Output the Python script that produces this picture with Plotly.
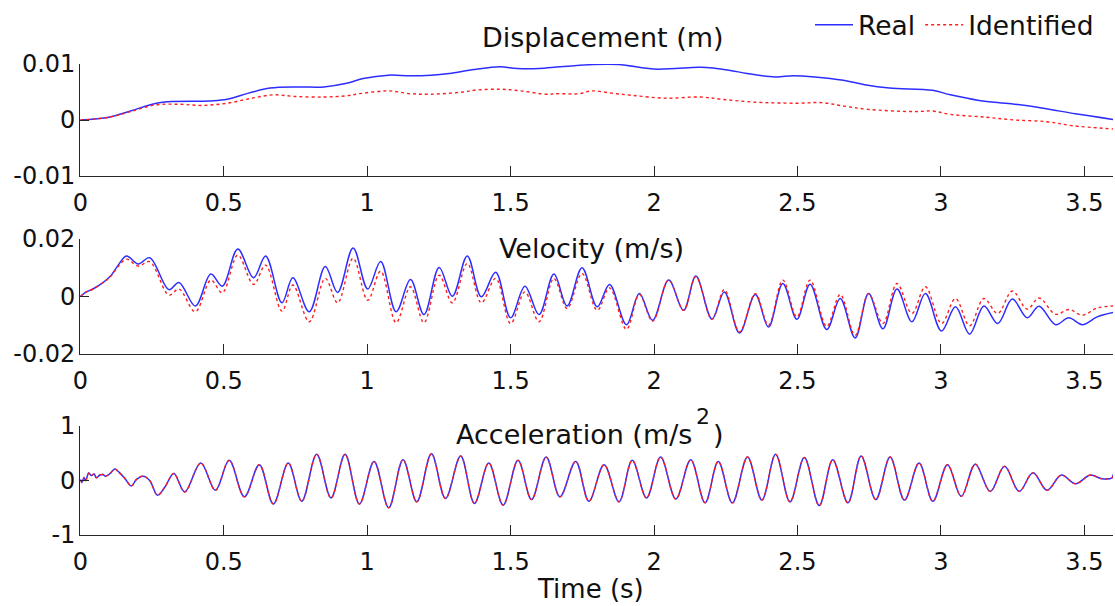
import plotly.graph_objects as go

# ---- data -------------------------------------------------------------
# Displacement (m)
disp_t_real = [0, 0.1, 0.175, 0.275, 0.449, 0.512, 0.587, 0.662, 0.762, 0.849,
               0.924, 0.986, 1.074, 1.149, 1.223, 1.286, 1.373, 1.461, 1.523, 1.598,
               1.673, 1.788, 1.876, 2.0, 2.075, 2.162, 2.261, 2.324, 2.423, 2.485,
               2.56, 2.66, 2.734, 2.821, 2.971, 3.033, 3.133, 3.245, 3.357, 3.469,
               3.6]
disp_real = [0, 0.0005, 0.0016, 0.0031, 0.0034, 0.0037, 0.0048, 0.0057, 0.0059, 0.0059,
             0.0065, 0.0074, 0.0080, 0.0079, 0.0080, 0.0083, 0.0090, 0.0095, 0.0092, 0.0092,
             0.0095, 0.0099, 0.0099, 0.0091, 0.0092, 0.0094, 0.0089, 0.0083, 0.0077, 0.0079,
             0.0077, 0.0071, 0.0063, 0.0057, 0.0053, 0.0045, 0.0035, 0.0029, 0.0021, 0.0011,
             0.0001]
disp_t_ident = [0, 0.1, 0.175, 0.262, 0.35, 0.424, 0.512, 0.599, 0.674, 0.749,
                0.849, 0.924, 0.974, 1.074, 1.149, 1.223, 1.336, 1.373, 1.461, 1.536,
                1.623, 1.664, 1.739, 1.782, 1.851, 1.925, 2.037, 2.162, 2.236, 2.348,
                2.498, 2.585, 2.66, 2.747, 2.908, 2.971, 3.033, 3.157, 3.257, 3.369,
                3.456, 3.6]
disp_ident = [0, 0.0005, 0.0015, 0.0027, 0.0028, 0.0026, 0.0030, 0.0039, 0.0045, 0.0042,
              0.0041, 0.0043, 0.0047, 0.0052, 0.0047, 0.0046, 0.0050, 0.0053, 0.0055, 0.0052,
              0.0046, 0.0047, 0.0047, 0.0052, 0.0048, 0.0044, 0.0039, 0.0041, 0.0037, 0.0032,
              0.0030, 0.0031, 0.0025, 0.0019, 0.0015, 0.0016, 0.0010, 0.0005, 0.0000, -0.0003,
              -0.0010, -0.0016]

# Velocity (m/s)
vel_t = [0, 0.021, 0.044, 0.103, 0.132, 0.161, 0.202, 0.242, 0.309, 0.344,
         0.401, 0.455, 0.495, 0.549, 0.604, 0.646, 0.703, 0.741, 0.798, 0.854,
         0.897, 0.951, 1.002, 1.047, 1.101, 1.151, 1.198, 1.251, 1.297, 1.349,
         1.398, 1.448, 1.500, 1.550, 1.599, 1.651, 1.697, 1.749, 1.802, 1.845,
         1.904, 1.949, 1.995, 2.051, 2.103, 2.146, 2.202, 2.245, 2.298, 2.353,
         2.399, 2.449, 2.498, 2.544, 2.602, 2.649, 2.701, 2.748, 2.798, 2.847,
         2.899, 2.946, 3.002, 3.051, 3.100, 3.150, 3.198, 3.249, 3.301, 3.342,
         3.400, 3.446, 3.493, 3.545, 3.600]
vel_real = [0, 0.0016, 0.0026, 0.0069, 0.0109, 0.0141, 0.0113, 0.0135, 0.0024, 0.0049,
            -0.0033, 0.0078, 0.0036, 0.0165, 0.0065, 0.0141, -0.0022, 0.0065, -0.0053, 0.0104,
            0.0014, 0.0169, 0.0026, 0.0122, -0.0053, 0.0059, -0.0063, 0.0101, 0.0001, 0.0141,
            -0.0001, 0.0084, -0.0074, 0.0036, -0.0063, 0.0078, -0.0033, 0.0100, -0.0036, 0.0042,
            -0.0098, 0.0010, -0.0083, 0.0057, -0.0048, 0.0071, -0.0079, 0.0016, -0.0127, 0.0007,
            -0.0106, 0.0045, -0.0079, 0.0043, -0.0115, -0.0007, -0.0144, 0.0010, -0.0112, 0.0026,
            -0.0088, 0.0010, -0.0120, -0.0036, -0.0131, -0.0033, -0.0094, -0.0009, -0.0074, -0.0034,
            -0.0098, -0.0074, -0.0098, -0.0071, -0.0056]
vel_ident = [0, 0.0016, 0.0026, 0.0067, 0.0104, 0.0130, 0.0106, 0.0121, 0.0005, 0.0026,
             -0.0053, 0.0057, 0.0013, 0.0144, 0.0042, 0.0109, -0.0051, 0.0040, -0.0088, 0.0063,
             -0.0022, 0.0133, -0.0013, 0.0088, -0.0091, 0.0034, -0.0091, 0.0074, -0.0022, 0.0115,
             -0.0022, 0.0063, -0.0094, 0.0016, -0.0088, 0.0063, -0.0042, 0.0080, -0.0048, 0.0030,
             -0.0114, 0.0007, -0.0086, 0.0057, -0.0048, 0.0069, -0.0079, 0.0024, -0.0123, 0.0010,
             -0.0100, 0.0057, -0.0071, 0.0057, -0.0104, 0.0007, -0.0135, 0.0010, -0.0094, 0.0045,
             -0.0059, 0.0034, -0.0094, -0.0007, -0.0102, -0.0007, -0.0059, 0.0019, -0.0044, -0.0005,
             -0.0062, -0.0045, -0.0065, -0.0040, -0.0033]

# Acceleration (m/s^2)
acc_t = [0, 0.006, 0.013, 0.019, 0.029, 0.038, 0.048, 0.056, 0.068, 0.079,
         0.087, 0.097, 0.106, 0.120, 0.137, 0.155, 0.178, 0.196, 0.219, 0.242,
         0.269, 0.295, 0.326, 0.364, 0.420, 0.471, 0.519, 0.572, 0.624, 0.673,
         0.725, 0.772, 0.824, 0.874, 0.923, 0.973, 1.024, 1.075, 1.125, 1.173,
         1.224, 1.273, 1.326, 1.374, 1.424, 1.474, 1.526, 1.573, 1.624, 1.672,
         1.727, 1.773, 1.826, 1.878, 1.924, 1.974, 2.023, 2.076, 2.128, 2.178,
         2.224, 2.273, 2.326, 2.376, 2.424, 2.474, 2.524, 2.576, 2.623, 2.676,
         2.722, 2.773, 2.823, 2.873, 2.924, 2.972, 3.023, 3.071, 3.120, 3.172,
         3.222, 3.273, 3.321, 3.370, 3.420, 3.469, 3.521, 3.562, 3.597, 3.600]
acc_real = [0.02, -0.03, 0.05, 0.0, 0.14, 0.09, 0.12, 0.05, 0.10, 0.11,
            0.08, 0.10, 0.14, 0.21, 0.14, 0.04, -0.10, 0.02, 0.08, 0.0,
            -0.27, -0.12, 0.13, -0.21, 0.32, -0.18, 0.37, -0.30, 0.29, -0.43,
            0.32, -0.38, 0.48, -0.32, 0.48, -0.43, 0.35, -0.50, 0.38, -0.39,
            0.49, -0.33, 0.45, -0.42, 0.32, -0.45, 0.37, -0.35, 0.43, -0.30,
            0.35, -0.38, 0.29, -0.39, 0.37, -0.32, 0.43, -0.34, 0.38, -0.41,
            0.35, -0.41, 0.43, -0.36, 0.48, -0.39, 0.42, -0.46, 0.38, -0.41,
            0.45, -0.35, 0.43, -0.36, 0.32, -0.38, 0.29, -0.29, 0.30, -0.20,
            0.26, -0.20, 0.14, -0.18, 0.10, -0.06, 0.10, 0.03, 0.05, 0.11]
acc_ident = [0.0, -0.04, 0.06, 0.0, 0.13, 0.09, 0.12, 0.05, 0.10, 0.11,
             0.08, 0.10, 0.14, 0.21, 0.14, 0.04, -0.10, 0.02, 0.08, 0.0,
             -0.27, -0.12, 0.13, -0.21, 0.32, -0.18, 0.37, -0.30, 0.29, -0.43,
             0.32, -0.38, 0.48, -0.32, 0.48, -0.43, 0.35, -0.50, 0.38, -0.39,
             0.49, -0.33, 0.45, -0.42, 0.32, -0.45, 0.37, -0.35, 0.43, -0.30,
             0.35, -0.38, 0.29, -0.39, 0.37, -0.32, 0.43, -0.34, 0.38, -0.41,
             0.35, -0.41, 0.43, -0.36, 0.48, -0.39, 0.42, -0.46, 0.38, -0.41,
             0.45, -0.35, 0.43, -0.36, 0.32, -0.38, 0.29, -0.29, 0.30, -0.20,
             0.26, -0.20, 0.14, -0.18, 0.10, -0.06, 0.10, 0.03, 0.05, 0.11]

# Axis ticks
x_ticks = [0, 0.5, 1, 1.5, 2, 2.5, 3, 3.5]
x_ticklabels = ["0", "0.5", "1", "1.5", "2", "2.5", "3", "3.5"]
disp_ticks = [-0.01, 0, 0.01]
disp_ticklabels = ["-0.01", "0", "0.01"]
vel_ticks = [-0.02, 0, 0.02]
vel_ticklabels = ["-0.02", "0", "0.02"]
acc_ticks = [-1, 0, 1]
acc_ticklabels = ["-1", "0", "1"]

# ---- figure -----------------------------------------------------------
W, H = 1115, 606
FONT = "DejaVu Sans"
INK = "#262626"
TXT = "#111111"
BLUE = "rgb(45,45,255)"
RED = "rgb(255,30,30)"


def fx(px):
    return px / W


def fy(px):
    return 1 - px / H


X_LEFT, X_RIGHT = 80.3, 1113
# (top, bottom) of each panel in pixels
panels = [(64, 176), (239, 354), (426, 535)]

fig = go.Figure()

series = [
    (disp_t_real, disp_real, disp_t_ident, disp_ident),
    (vel_t, vel_real, vel_t, vel_ident),
    (acc_t, acc_real, acc_t, acc_ident),
]
for i, (tr, yr, ti, yi) in enumerate(series):
    sfx = "" if i == 0 else str(i + 1)
    fig.add_trace(go.Scatter(
        x=tr, y=yr, mode="lines", name="Real",
        line=dict(color=BLUE, width=1.5, shape="spline", smoothing=1.0),
        xaxis="x" + sfx, yaxis="y" + sfx, showlegend=(i == 0)))
    fig.add_trace(go.Scatter(
        x=ti, y=yi, mode="lines", name="Identified",
        line=dict(color=RED, width=1.4, dash="dot", shape="spline", smoothing=1.0),
        xaxis="x" + sfx, yaxis="y" + sfx, showlegend=(i == 0)))

y_specs = [
    ([-0.01, 0.01], disp_ticks, disp_ticklabels),
    ([-0.02, 0.02], vel_ticks, vel_ticklabels),
    ([-1, 1], acc_ticks, acc_ticklabels),
]

layout = dict(
    width=W, height=H,
    # fixed margins: tick labels hanging past the axes must not grow them
    margin=dict(l=0, r=0, t=0, b=0, autoexpand=False),
    paper_bgcolor="white", plot_bgcolor="white",
    font=dict(family=FONT, size=24, color=TXT),
    showlegend=True,
    legend=dict(orientation="h", x=fx(810), y=fy(25),
                xanchor="left", yanchor="middle",
                font=dict(family=FONT, size=26.5, color=TXT),
                bgcolor="rgba(0,0,0,0)", itemwidth=38,
                tracegroupgap=0),
)

for i, ((top, bot), (yr, yt, ytl)) in enumerate(zip(panels, y_specs)):
    sfx = "" if i == 0 else str(i + 1)
    layout["xaxis" + sfx] = dict(
        domain=[fx(X_LEFT), fx(X_RIGHT)], range=[0, 3.6],
        anchor="y" + sfx, automargin=False,
        tickmode="array", tickvals=x_ticks, ticktext=x_ticklabels,
        ticks="inside", ticklen=10, tickwidth=1.2, tickcolor=INK,
        showline=True, linecolor=INK, linewidth=1.3,
        showgrid=False, zeroline=False,
        tickfont=dict(family=FONT, size=24, color=TXT),
        ticklabelstandoff=5,
    )
    layout["yaxis" + sfx] = dict(
        domain=[fy(bot), fy(top)], range=yr,
        anchor="x" + sfx, automargin=False,
        tickmode="array", tickvals=yt, ticktext=ytl,
        ticks="inside", ticklen=9, tickwidth=1.2, tickcolor=INK,
        showline=True, linecolor=INK, linewidth=1.3,
        showgrid=False, zeroline=False,
        tickfont=dict(family=FONT, size=24, color=TXT),
        ticklabelstandoff=-1,
    )

annotations = [
    dict(text="Displacement (m)", x=fx(603), y=fy(38)),
    dict(text="Velocity (m/s)", x=fx(591), y=fy(248)),
    dict(text="Acceleration (m/s", x=fx(694), y=fy(434), xanchor="right"),
    dict(text="2", x=fx(694), y=fy(416), xanchor="left", size=22),
    dict(text=")", x=fx(711), y=fy(434), xanchor="left"),
    dict(text="Time (s)", x=fx(590), y=fy(589), size=26),
]
for a in annotations:
    a.setdefault("xanchor", "center")
    size = a.pop("size", 27)
    a.update(xref="paper", yref="paper", yanchor="middle",
             showarrow=False, font=dict(family=FONT, size=size, color=TXT))
layout["annotations"] = annotations

fig.update_layout(**layout)
fig.write_html("out.html")
